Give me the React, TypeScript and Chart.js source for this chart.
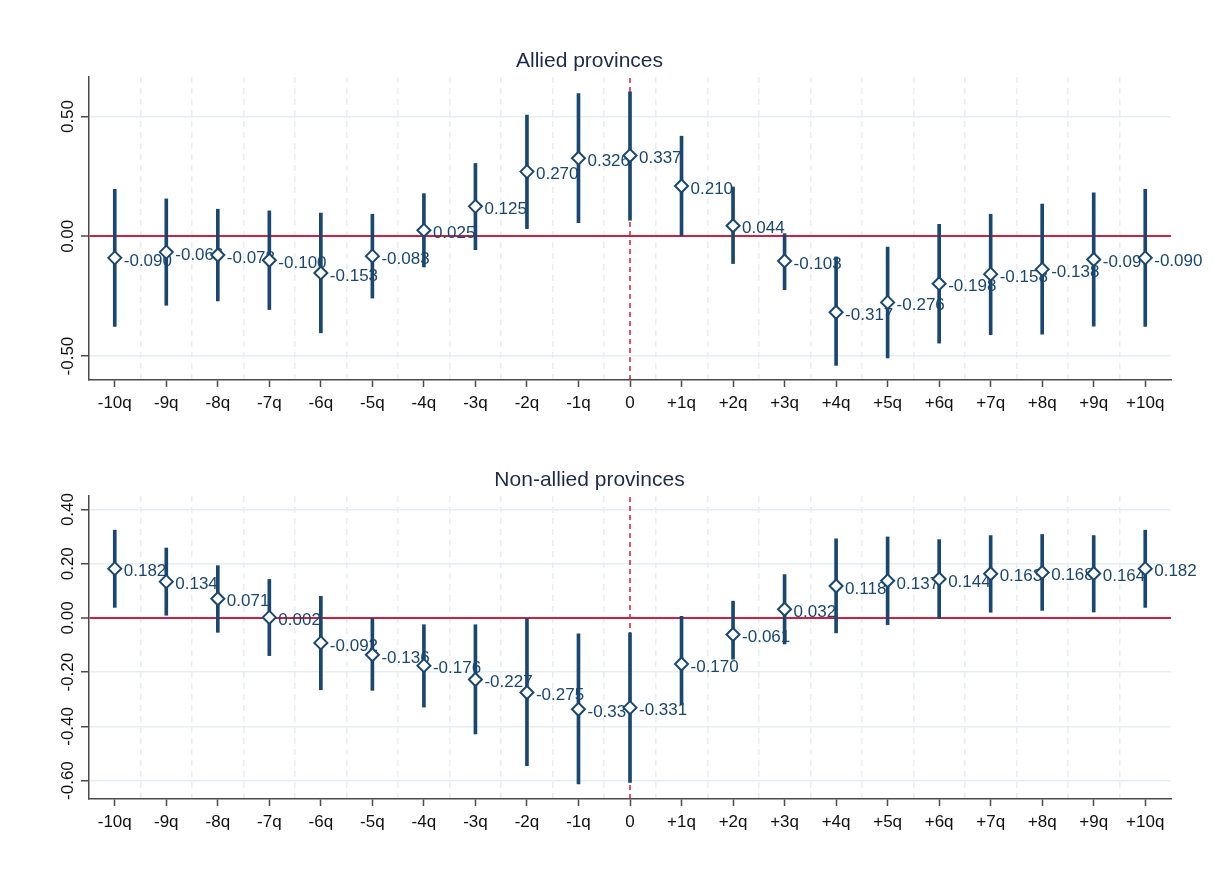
import React, { useEffect, useRef } from 'react';
import { Chart, registerables } from 'chart.js';

Chart.register(...registerables);

// ---------- data ----------
const quarterLabels = [
  '-10q', '-9q', '-8q', '-7q', '-6q', '-5q', '-4q', '-3q', '-2q', '-1q', '0',
  '+1q', '+2q', '+3q', '+4q', '+5q', '+6q', '+7q', '+8q', '+9q', '+10q',
];
const eventIndex = 10;

const alliedTitle = 'Allied provinces';
const alliedEstimates = [
  -0.090, -0.066, -0.078, -0.100, -0.153, -0.083, 0.025, 0.125, 0.270, 0.326, 0.337,
  0.210, 0.044, -0.103, -0.317, -0.276, -0.198, -0.158, -0.138, -0.097, -0.090,
];
const alliedLower = [
  -0.376, -0.288, -0.270, -0.306, -0.403, -0.258, -0.128, -0.056, 0.032, 0.057, 0.067,
  0.002, -0.114, -0.223, -0.539, -0.508, -0.446, -0.411, -0.409, -0.375, -0.376,
];
const alliedUpper = [
  0.196, 0.156, 0.113, 0.106, 0.097, 0.092, 0.178, 0.304, 0.506, 0.596, 0.603,
  0.418, 0.206, 0.011, -0.086, -0.045, 0.050, 0.092, 0.134, 0.181, 0.196,
];
const alliedTicks = [-0.5, 0, 0.5];
const alliedRange = [-0.6, 0.665];

const nonAlliedTitle = 'Non-allied provinces';
const nonAlliedEstimates = [
  0.182, 0.134, 0.071, 0.002, -0.092, -0.136, -0.176, -0.227, -0.275, -0.337, -0.331,
  -0.170, -0.061, 0.032, 0.118, 0.137, 0.144, 0.163, 0.168, 0.164, 0.182,
];
const nonAlliedLower = [
  0.039, 0.010, -0.053, -0.139, -0.265, -0.267, -0.329, -0.428, -0.545, -0.612, -0.607,
  -0.321, -0.152, -0.096, -0.055, -0.025, -0.002, 0.021, 0.028, 0.022, 0.039,
];
const nonAlliedUpper = [
  0.324, 0.258, 0.193, 0.142, 0.080, -0.002, -0.025, -0.025, -0.002, -0.059, -0.055,
  0.006, 0.062, 0.160, 0.292, 0.299, 0.289, 0.304, 0.308, 0.304, 0.324,
];
const nonAlliedTicks = [-0.6, -0.4, -0.2, 0, 0.2, 0.4];
const nonAlliedRange = [-0.668, 0.45];

// ---------- styles ----------
const NAVY = '#1a476f';
const RED = '#d11f3f';
const GRID = '#e6eef1';
const AXIS = '#4a4a4a';
const TITLE = '#1e2a4a';
const FONT = '"Liberation Sans", Arial, Helvetica, sans-serif';

const CANVAS_W = 1196;
const CANVAS_H = 420;

const valueLabelPlugin = {
  id: 'valueLabels',
  beforeDatasetsDraw(chart: any) {
    const ctx = chart.ctx;
    chart.data.datasets.forEach((ds: any, di: number) => {
      if (ds.label !== 'estimate') return;
      const meta = chart.getDatasetMeta(di);
      ctx.save();
      ctx.font = `17px ${FONT}`;
      ctx.fillStyle = NAVY;
      ctx.textAlign = 'left';
      ctx.textBaseline = 'middle';
      meta.data.forEach((el: any, i: number) => {
        const v = ds.data[i].y as number;
        ctx.fillText(v.toFixed(3), el.x + 9, el.y + 3);
      });
      ctx.restore();
    });
  },
};

function buildConfig(
  title: string,
  est: number[],
  lo: number[],
  hi: number[],
  yTicks: number[],
  yRange: number[],
) {
  const n = quarterLabels.length;
  return {
    type: 'scatter',
    data: {
      datasets: [
        {
          type: 'scatter',
          label: 'estimate',
          data: est.map((v, i) => ({ x: i, y: v })),
          pointStyle: 'rectRot',
          pointRadius: 6.5,
          pointHoverRadius: 6.5,
          borderWidth: 2,
          borderColor: NAVY,
          backgroundColor: '#ffffff',
          order: 0,
        },
        {
          type: 'bar',
          label: 'ci',
          data: lo.map((v, i) => ({ x: i, y: [v, hi[i]] })),
          backgroundColor: NAVY,
          borderWidth: 0,
          borderSkipped: false,
          barThickness: 3,
          grouped: false,
          order: 1,
        },
        {
          type: 'line',
          label: 'event',
          data: [
            { x: eventIndex, y: yRange[0] },
            { x: eventIndex, y: yRange[1] },
          ],
          borderColor: RED,
          borderWidth: 1.5,
          borderDash: [5, 4],
          pointRadius: 0,
          fill: false,
          order: 2,
        },
      ],
    },
    options: {
      responsive: false,
      animation: false,
      events: [],
      layout: { padding: { left: 0, right: 33, top: 0, bottom: 0 } },
      plugins: {
        legend: { display: false },
        tooltip: { enabled: false },
        title: {
          display: true,
          text: title,
          color: TITLE,
          font: { family: FONT, size: 21, weight: 'normal' },
          padding: { top: 41, bottom: 2.8 },
        },
      },
      scales: {
        x: {
          type: 'linear',
          position: 'bottom',
          offset: false,
          min: -0.5,
          max: n - 0.5,
          afterBuildTicks: (scale: any) => {
            scale.ticks = quarterLabels.map((_, i) => ({ value: i }));
          },
          afterFit: (scale: any) => {
            scale.height = 48;
          },
          ticks: {
            autoSkip: false,
            maxRotation: 0,
            minRotation: 0,
            padding: 6,
            color: '#111111',
            font: { family: FONT, size: 17 },
            callback: (value: number) => quarterLabels[Math.round(value)],
          },
          grid: {
            offset: false,
            drawOnChartArea: false,
            drawTicks: true,
            tickLength: 7,
            tickColor: AXIS,
            tickWidth: 1.5,
          },
          border: { display: true, color: AXIS, width: 1.5 },
        },
        xg: {
          type: 'linear',
          position: 'top',
          offset: false,
          min: -0.5,
          max: n - 0.5,
          afterBuildTicks: (scale: any) => {
            scale.ticks = quarterLabels.slice(1).map((_, i) => ({ value: i + 0.5 }));
          },
          afterFit: (scale: any) => {
            scale.height = 0;
          },
          ticks: { display: false },
          grid: {
            offset: false,
            drawOnChartArea: true,
            drawTicks: false,
            color: GRID,
            lineWidth: 1.5,
          },
          border: { display: false, dash: [6, 5] },
        },
        y: {
          type: 'linear',
          position: 'left',
          min: yRange[0],
          max: yRange[1],
          afterBuildTicks: (scale: any) => {
            scale.ticks = yTicks.map((v) => ({ value: v }));
          },
          afterFit: (scale: any) => {
            scale.width = 81;
          },
          ticks: {
            minRotation: 90,
            maxRotation: 90,
            crossAlign: 'center',
            padding: -7,
            color: '#111111',
            font: { family: FONT, size: 17 },
            callback: (value: number) => Number(value).toFixed(2),
          },
          grid: {
            drawOnChartArea: true,
            drawTicks: true,
            tickLength: 8,
            tickColor: AXIS,
            tickWidth: 1.5,
            color: (c: any) => (c.tick && c.tick.value === 0 ? RED : GRID),
            lineWidth: (c: any) => (c.tick && c.tick.value === 0 ? 2 : 1.5),
          },
          border: { display: true, color: AXIS, width: 1.5 },
        },
      },
    },
    plugins: [valueLabelPlugin],
  };
}

function Panel(props: {
  top: number;
  title: string;
  est: number[];
  lo: number[];
  hi: number[];
  yTicks: number[];
  yRange: number[];
}) {
  const ref = useRef<HTMLCanvasElement | null>(null);
  useEffect(() => {
    if (!ref.current) return;
    const cfg: any = buildConfig(props.title, props.est, props.lo, props.hi, props.yTicks, props.yRange);
    const chart = new Chart(ref.current, cfg);
    return () => chart.destroy();
  }, []);
  return (
    <div style={{ position: 'absolute', left: 0, top: props.top, width: CANVAS_W, height: CANVAS_H }}>
      <canvas ref={ref} width={CANVAS_W} height={CANVAS_H} style={{ display: 'block' }} />
    </div>
  );
}

export default function App() {
  return (
    <div style={{ position: 'relative', width: CANVAS_W, height: 840, background: '#ffffff' }}>
      <Panel
        top={0}
        title={alliedTitle}
        est={alliedEstimates}
        lo={alliedLower}
        hi={alliedUpper}
        yTicks={alliedTicks}
        yRange={alliedRange}
      />
      <Panel
        top={419}
        title={nonAlliedTitle}
        est={nonAlliedEstimates}
        lo={nonAlliedLower}
        hi={nonAlliedUpper}
        yTicks={nonAlliedTicks}
        yRange={nonAlliedRange}
      />
    </div>
  );
}
